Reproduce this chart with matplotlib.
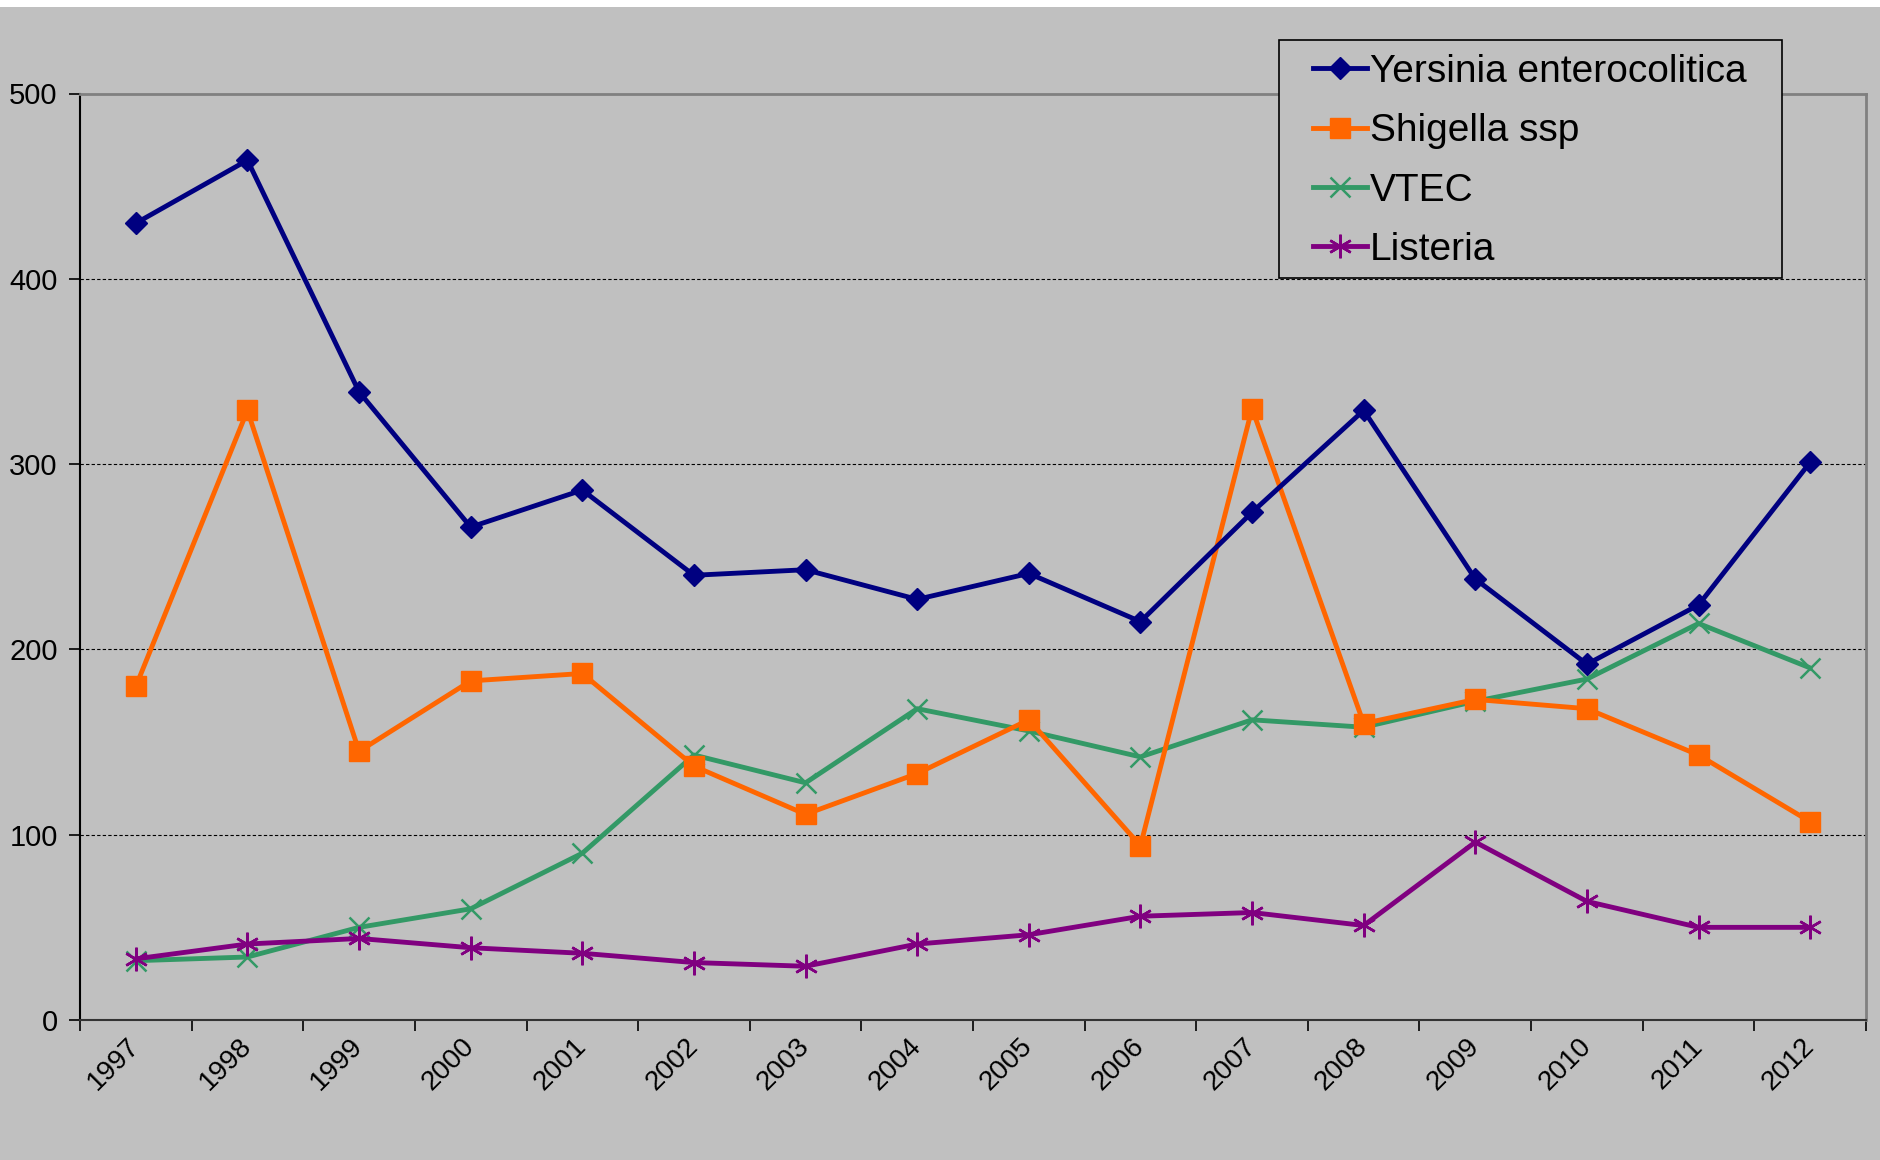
import matplotlib.pyplot as plt

plt.rcParams['font.family'] = ['Liberation Sans', 'DejaVu Sans']

years = ['1997', '1998', '1999', '2000', '2001', '2002', '2003', '2004',
         '2005', '2006', '2007', '2008', '2009', '2010', '2011', '2012']
yersinia = [430, 464, 339, 266, 286, 240, 243, 227, 241, 215, 274, 329, 238, 192, 224, 301]
shigella = [180, 329, 145, 183, 187, 137, 111, 133, 162, 94, 330, 160, 173, 168, 143, 107]
vtec = [32, 34, 50, 60, 90, 143, 128, 168, 156, 142, 162, 158, 172, 184, 214, 190]
listeria = [33, 41, 44, 39, 36, 31, 29, 41, 46, 56, 58, 51, 96, 64, 50, 50]

bg = '#C0C0C0'
W, H = 1880, 1160
fig = plt.figure(figsize=(W / 100, H / 100), dpi=100, facecolor=bg)
# white strip along the top edge
fig.patches.append(plt.Rectangle((0, 1 - 7 / H), 1, 7 / H, transform=fig.transFigure,
                                 facecolor='white', edgecolor='none'))
ax = fig.add_axes([80 / W, 1 - 1020 / H, 1786 / W, (1020 - 93.5) / H])
ax.set_facecolor(bg)

x = list(range(len(years)))
ax.plot(x, yersinia, color='#000080', lw=3.5, marker='D', ms=11, label='Yersinia enterocolitica', zorder=5)
ax.plot(x, shigella, color='#FF6600', lw=3.5, marker='s', ms=14, label='Shigella ssp', zorder=4)
ax.plot(x, vtec, color='#339966', lw=3.5, marker='x', ms=15, mew=1.8, label='VTEC', zorder=3)
ax.plot(x, listeria, color='#800080', lw=3.5, marker=(6, 2, 0), ms=17, mew=1.8, label='Listeria', zorder=3)

ax.set_xlim(-0.5, len(years) - 0.5)
ax.set_ylim(0, 500)
ax.set_yticks([0, 100, 200, 300, 400, 500])
for v in [100, 200, 300, 400]:
    ax.axhline(v, color='black', lw=0.8, ls=(0, (3, 2)), zorder=1)

# category ticks sit between years, labels at years
ax.set_xticks([i - 0.5 for i in range(len(years) + 1)])
ax.set_xticklabels([])
ax.set_xticks(x, minor=True)
ax.set_xticklabels(years, minor=True, fontsize=20)
ax.tick_params(axis='x', which='minor', length=0, pad=16)
ax.tick_params(axis='x', which='major', length=8, width=1.2, direction='out')
ax.tick_params(axis='y', length=8, width=1.2, direction='out', labelsize=21, pad=8)
for lbl in ax.get_xticklabels(minor=True):
    lbl.set_rotation(45)
    lbl.set_rotation_mode('anchor')
    lbl.set_ha('right')
    lbl.set_va('center')

ax.spines['left'].set_color('black')
ax.spines['bottom'].set_color('#333333')
ax.spines['left'].set_linewidth(1.5)
ax.spines['bottom'].set_linewidth(1.5)
ax.spines['top'].set_color('#808080')
ax.spines['right'].set_color('#808080')
ax.spines['top'].set_linewidth(2)
ax.spines['right'].set_linewidth(2)

# legend box drawn separately so the padding matches
fig.patches.append(plt.Rectangle((1279 / W, 1 - 278 / H), (1782 - 1279) / W, (278 - 40) / H,
                                 transform=fig.transFigure, facecolor=bg, edgecolor='black',
                                 lw=1.2, zorder=9))
leg = fig.legend(loc='upper left', bbox_to_anchor=(1313 / W, 1 - 54 / H), fontsize=28,
                 frameon=False, handlelength=1.38, handletextpad=0.08, labelspacing=0.6,
                 borderpad=0, borderaxespad=0)
leg.set_zorder(10)

fig.savefig('out.png', dpi=100, facecolor=bg)
